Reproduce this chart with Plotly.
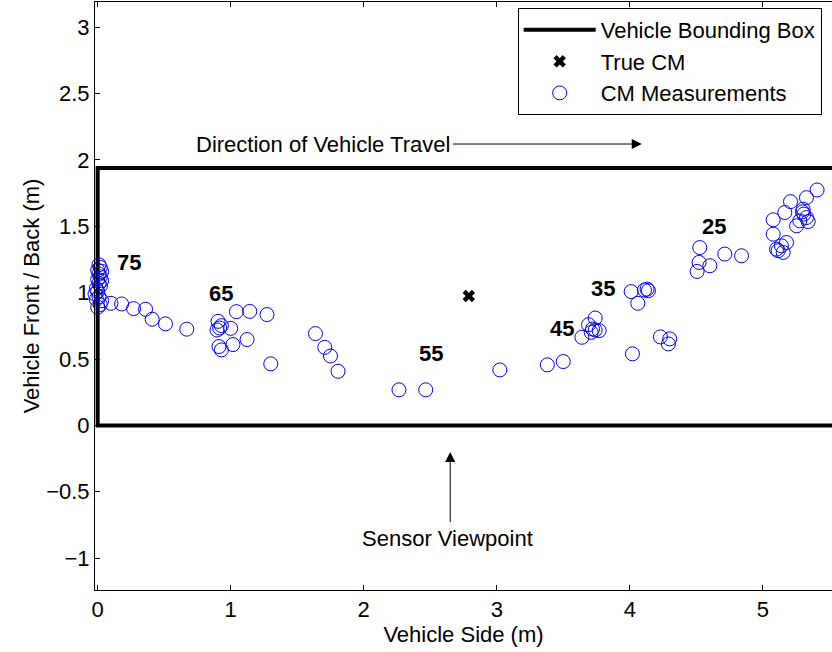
import plotly.graph_objects as go

# Centre-of-mass measurements along the pass (metres)
meas_x = [
    0.01, 0.02, 0.00, 0.03, 0.01, 0.02, 0.00, 0.03, 0.01, 0.02, -0.01, 0.00, -0.02, 0.01, -0.01, 0.03, 0.02, 0.00,
    0.10, 0.18, 0.27, 0.36, 0.41, 0.51, 0.67,
    0.905, 0.93, 1.00, 0.897, 0.917, 1.043, 1.143, 1.273, 0.912, 0.93, 1.017, 1.123, 1.301,
    1.637, 1.707, 1.75, 1.807, 2.265, 2.466, 3.023,
    3.38, 3.50, 3.64, 3.69, 3.74, 3.71, 3.74, 3.77, 3.72,
    4.02, 4.01, 4.06, 4.11, 4.13, 4.14, 4.23, 4.30, 4.29,
    4.526, 4.521, 4.506, 4.602, 4.714, 4.84,
    5.078, 5.078, 5.165, 5.208, 5.328, 5.408, 5.303, 5.308, 5.328, 5.278, 5.254, 5.341, 5.298,
    5.178, 5.140, 5.115, 5.153, 5.103,
]
meas_y = [
    1.21, 1.19, 1.17, 1.16, 1.14, 1.12, 1.10, 1.09, 1.07, 1.05, 1.03, 1.01, 0.99, 0.97, 0.95, 0.94, 0.91, 0.89,
    0.92, 0.915, 0.88, 0.875, 0.80, 0.765, 0.725,
    0.784, 0.752, 0.731, 0.719, 0.734, 0.857, 0.859, 0.835, 0.594, 0.569, 0.609, 0.647, 0.464,
    0.692, 0.588, 0.523, 0.408, 0.268, 0.268, 0.418,
    0.456, 0.481, 0.664, 0.759, 0.809, 0.701, 0.719, 0.714, 0.727,
    0.539, 1.008, 0.92, 1.02, 1.027, 1.015, 0.667, 0.652, 0.614,
    1.340, 1.228, 1.160, 1.203, 1.291, 1.278,
    1.549, 1.441, 1.604, 1.686, 1.716, 1.774, 1.629, 1.592, 1.566, 1.541, 1.504, 1.536, 1.609,
    1.378, 1.353, 1.316, 1.303, 1.328,
]

# True centre of mass
true_cm_x = [2.79]
true_cm_y = [0.975]

# Vehicle bounding box outline (open on the far end)
box_x = [5.8, 0.0, 0.0, 5.8]
box_y = [0.0, 0.0, 1.94, 1.94]

# Speed labels placed along the pass
speed_labels = ["75", "65", "55", "45", "35", "25"]
speed_x = [0.233, 0.925, 2.504, 3.49, 3.80, 4.63]
speed_y = [1.226, 0.992, 0.541, 0.729, 1.03, 1.496]

x_ticks = [0, 1, 2, 3, 4, 5]
y_ticks = [-1, -0.5, 0, 0.5, 1, 1.5, 2, 2.5, 3]
y_tick_text = ["\u22121", "\u22120.5", "0", "0.5", "1", "1.5", "2", "2.5", "3"]

FONT = "Liberation Sans, Arial, Helvetica, sans-serif"
FS = 22

fig = go.Figure()
fig.add_trace(go.Scatter(
    x=box_x, y=box_y, mode="lines", name="Vehicle Bounding Box",
    line=dict(color="black", width=4), cliponaxis=True,
))
fig.add_trace(go.Scatter(
    x=true_cm_x, y=true_cm_y, mode="markers", name="True CM",
    marker=dict(symbol="x", size=11, color="black", line=dict(width=0)),
))
fig.add_trace(go.Scatter(
    x=meas_x, y=meas_y, mode="markers", name="CM Measurements",
    marker=dict(symbol="circle-open", size=14, color="#0000ff", line=dict(width=1, color="#0000ff")),
    cliponaxis=False,
))

for t, x, y in zip(speed_labels, speed_x, speed_y):
    fig.add_annotation(x=x, y=y, text="<b>" + t + "</b>", showarrow=False,
                       font=dict(family=FONT, size=FS, color="black"))

# Direction of travel arrow
fig.add_annotation(x=4.09, y=2.12, ax=2.66, ay=2.12, xref="x", yref="y", axref="x", ayref="y",
                   text="", showarrow=True, arrowhead=2, arrowsize=2, arrowwidth=1, arrowcolor="black")
fig.add_annotation(x=2.66, y=2.12, text="Direction of Vehicle Travel", showarrow=False,
                   xanchor="right", font=dict(family=FONT, size=FS, color="black"))

# Sensor viewpoint arrow
fig.add_annotation(x=2.65, y=-0.2, ax=2.65, ay=-0.74, xref="x", yref="y", axref="x", ayref="y",
                   text="", showarrow=True, arrowhead=2, arrowsize=2, arrowwidth=1, arrowcolor="black")
fig.add_annotation(x=2.63, y=-0.85, text="Sensor Viewpoint", showarrow=False,
                   font=dict(family=FONT, size=FS, color="black"))

axis_common = dict(
    showgrid=False, zeroline=False, showline=True, linecolor="black", linewidth=1,
    ticks="inside", ticklen=5, tickcolor="black",
    tickfont=dict(family=FONT, size=FS, color="black"),
)

fig.update_layout(
    width=832, height=652,
    margin=dict(l=95, r=0, t=2, b=62),
    plot_bgcolor="white", paper_bgcolor="white",
    font=dict(family=FONT, size=FS, color="black"),
    xaxis=dict(range=[-0.02, 5.52], tickvals=x_ticks, mirror="ticks",
               title=dict(text="Vehicle Side (m)", font=dict(family=FONT, size=FS), standoff=2),
               **axis_common),
    yaxis=dict(range=[-1.24, 3.19], tickvals=y_ticks, ticktext=y_tick_text,
               title=dict(text="Vehicle Front / Back (m)", font=dict(family=FONT, size=FS), standoff=0),
               **axis_common),
    legend=dict(x=0.986, y=0.99, xanchor="right", yanchor="top",
                bgcolor="white", bordercolor="black", borderwidth=1,
                font=dict(family=FONT, size=FS, color="black"),
                itemwidth=72, tracegroupgap=0),
    showlegend=True,
)

fig.write_html("out.html")
